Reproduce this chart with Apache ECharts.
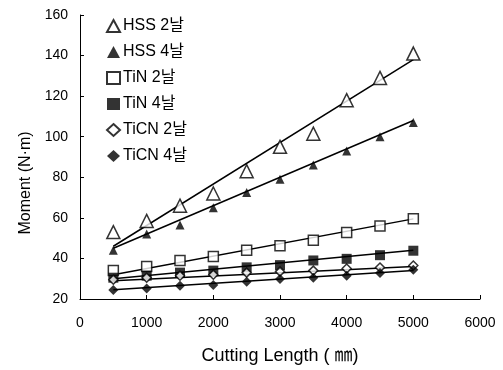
<!DOCTYPE html>
<html><head><meta charset="utf-8">
<script src="https://cdn.jsdelivr.net/npm/echarts@6/dist/echarts.min.js"></script>
<style>html,body{margin:0;padding:0;background:#fff}#c{width:503px;height:370px}</style>
</head><body><div id="c"></div>
<script>
const lengths = [500,1000,1500,2000,2500,3000,3500,4000,4500,5000];
const hss2  = [53,58.5,66,72,83,95,101.5,118,129,141];
const hss4  = [44,52,56.5,65,72.5,79,86,93,100,107];
const tin2  = [34,36,39,41,44,46.2,49,52.8,56,59.5];
const tin4  = [30.5,31.5,33,34,35.6,36.7,39,39.8,41.6,43.8];
const ticn2 = [29.5,30.5,31.5,32,33,33.5,34,35,35.5,36.5];
const ticn4 = [24.4,25.2,26.5,26.9,28.5,29.8,30.5,31.5,32.8,34.4];
// trend line end values read at 500 and 5000
const trendX = [500,5000];
const hss2Trend  = [46,138];
const hss4Trend  = [45,108];
const tin2Trend  = [32,59.5];
const tin4Trend  = [30,44];
const ticn2Trend = [29,36];
const ticn4Trend = [24.5,34];
const names = ['HSS 2날','HSS 4날','TiN 2날','TiN 4날','TiCN 2날','TiCN 4날'];
const xTicks = [0,1000,2000,3000,4000,5000,6000];
const yTicks = [20,40,60,80,100,120,140,160];

const FONT = '"Liberation Sans", Arial, "Noto Sans CJK KR", sans-serif';
const open = {color:'#fff', borderColor:'#000', borderWidth:1.5};
const fill = {color:'#000', borderColor:'#000', borderWidth:0};
const pts = v => lengths.map((x,i)=>[x,v[i]]);
const tr = v => trendX.map((x,i)=>[x,v[i]]);
const sets = [
  [hss2, hss2Trend, 'triangle', 13, open],
  [hss4, hss4Trend, 'triangle', 9, fill],
  [tin2, tin2Trend, 'rect', 10, open],
  [tin4, tin4Trend, 'rect', 10, fill],
  [ticn2, ticn2Trend, 'diamond', 9, open],
  [ticn4, ticn4Trend, 'diamond', 10, fill]
];
const series = [];
sets.forEach((s,k)=>{
  series.push({type:'line', data:tr(s[1]), symbol:'none', silent:true,
    lineStyle:{color:'#000', width:1.5}, z:2, legendHoverLink:false});
});
sets.forEach((s,k)=>{
  series.push({name:names[k], type:'scatter', data:pts(s[0]), symbol:s[2], symbolSize:s[3],
    itemStyle:s[4], z:5});
});
const chart = echarts.init(document.getElementById('c'), null, {renderer:'canvas'});
chart.setOption({
  animation:false,
  backgroundColor:'#fff',
  grid:{left:80, right:23, top:15, bottom:70},
  legend:{data:names, orient:'vertical', left:101, top:13, itemGap:10, itemWidth:13, itemHeight:12,
    textStyle:{fontFamily:FONT, fontSize:16, color:'#000', padding:[0,0,0,-2]}},
  xAxis:{type:'value', min:0, max:6000, interval:1000,
    name:'Cutting Length ( ㎜)', nameLocation:'middle', nameGap:48,
    nameTextStyle:{fontFamily:FONT, fontSize:18, color:'#000'},
    axisLine:{lineStyle:{color:'#000', width:1}},
    axisTick:{inside:true, length:4, lineStyle:{color:'#000'}},
    axisLabel:{fontFamily:FONT, fontSize:14, color:'#000', margin:17, formatter:v=>String(v)},
    splitLine:{show:false}},
  yAxis:{type:'value', min:20, max:160, interval:20,
    name:'Moment (N·m)', nameLocation:'middle', nameGap:45,
    nameTextStyle:{fontFamily:FONT, fontSize:16, color:'#000', padding:[0,52,0,0]},
    axisLine:{show:true, lineStyle:{color:'#000', width:1}},
    axisTick:{show:true, inside:true, length:4, lineStyle:{color:'#000'}},
    axisLabel:{fontFamily:FONT, fontSize:14, color:'#000', margin:12, formatter:v=>String(v)},
    splitLine:{show:false}},
  series
});
</script></body></html>
